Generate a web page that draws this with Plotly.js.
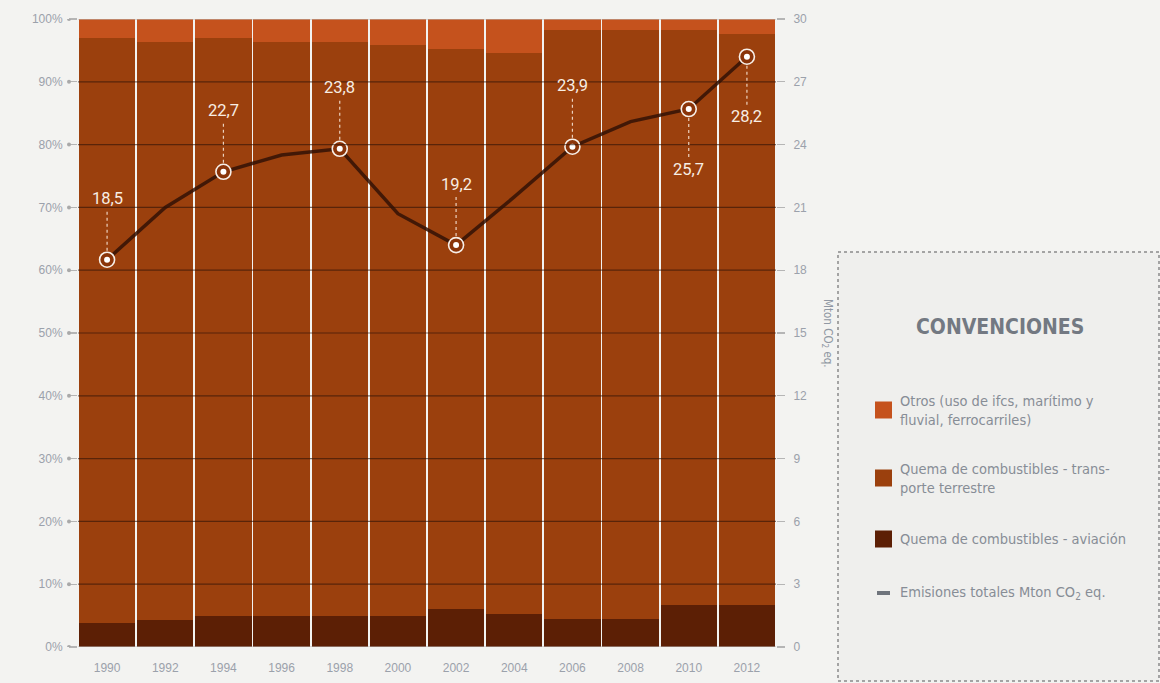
<!DOCTYPE html>
<html>
<head>
<meta charset="utf-8">
<script src="https://cdn.plot.ly/plotly-3.0.1.min.js"></script>
<style>
  html, body { margin: 0; padding: 0; background: #f3f3f1; }
  #chart { width: 1160px; height: 683px; }
</style>
</head>
<body>
<div id="chart"></div>
<script>
// ---- data ----
const years = [1990, 1992, 1994, 1996, 1998, 2000, 2002, 2004, 2006, 2008, 2010, 2012];
const yearLabels = ["1990", "1992", "1994", "1996", "1998", "2000", "2002", "2004", "2006", "2008", "2010", "2012"];
const aviacion = [3.9, 4.3, 4.9, 4.9, 4.9, 4.9, 6.1, 5.2, 4.5, 4.5, 6.7, 6.7];
const terrestre = [93.1, 92.1, 92.1, 91.5, 91.5, 91.0, 89.1, 89.4, 93.7, 93.7, 91.5, 90.9];
const otros = [3.0, 3.6, 3.0, 3.6, 3.6, 4.1, 4.8, 5.4, 1.8, 1.8, 1.8, 2.4];
const emisiones = [18.5, 21.0, 22.7, 23.5, 23.8, 20.7, 19.2, 21.5, 23.9, 25.1, 25.7, 28.2];
const labeledYears = [1990, 1994, 1998, 2002, 2006, 2010, 2012];
const labelSide = ["above", "above", "above", "above", "above", "below", "below"];
const pctTicks = [0, 10, 20, 30, 40, 50, 60, 70, 80, 90, 100];
const pctLabels = ["0%", "10%", "20%", "30%", "40%", "50%", "60%", "70%", "80%", "90%", "100%"];
const mtonTicks = [0, 3, 6, 9, 12, 15, 18, 21, 24, 27, 30];
const mtonLabels = ["0", "3", "6", "9", "12", "15", "18", "21", "24", "27", "30"];
const seriesNames = [
  "Otros (uso de ifcs, marítimo y<br>fluvial, ferrocarriles)",
  "Quema de combustibles - trans-<br>porte terrestre",
  "Quema de combustibles - aviación",
  "Emisiones totales Mton CO<sub>2</sub> eq."
];
const seriesColors = ["#c5521d", "#9b400d", "#5c1f05", "#6f747c"];

// ---- layout helpers (pixel -> paper) ----
const W = 1160, H = 683;
const M = { l: 78, r: 384, t: 19, b: 36 };
const PW = W - M.l - M.r, PH = H - M.t - M.b;
const px2x = p => (p - M.l) / PW;
const py2y = p => (H - M.b - p) / PH;

const tickFont = { family: "Liberation Sans, Arial, sans-serif", size: 12, color: "#9ba1ab" };

const barBase = { type: "bar", x: years, width: 1.94, hoverinfo: "skip", showlegend: false };

const traces = [
  Object.assign({}, barBase, { name: "aviacion", y: aviacion, marker: { color: seriesColors[2], line: { width: 0 } } }),
  Object.assign({}, barBase, { name: "terrestre", y: terrestre, marker: { color: seriesColors[1], line: { width: 0 } } }),
  Object.assign({}, barBase, { name: "otros", y: otros, marker: { color: seriesColors[0], line: { width: 0 } } }),
  { type: "scatter", mode: "lines", x: years, y: emisiones, yaxis: "y2", showlegend: false,
    line: { color: "rgba(50,18,6,0.85)", width: 3.5 }, hoverinfo: "skip" }
];

const lx = [], ly = [];
labeledYears.forEach(yr => { const i = years.indexOf(yr); lx.push(yr); ly.push(emisiones[i]); });
traces.push({ type: "scatter", mode: "markers", x: lx, y: ly, yaxis: "y2", showlegend: false, hoverinfo: "skip",
  marker: { symbol: "circle", size: 15, color: "#8a3409", line: { color: "#f7efe8", width: 1.6 } } });
traces.push({ type: "scatter", mode: "markers", x: lx, y: ly, yaxis: "y2", showlegend: false, hoverinfo: "skip",
  marker: { symbol: "circle", size: 6, color: "#ffffff" } });

const shapes = [];
const annotations = [];

// grid lines over bars
pctTicks.forEach(v => {
  const edge = (v === 0 || v === 100);
  shapes.push({ type: "line", xref: "paper", x0: 0, x1: 1, yref: "y", y0: v, y1: v, layer: "above",
    line: { color: edge ? "#b9b9b9" : "rgba(45,18,6,0.6)", width: 1.2 } });
  shapes.push({ type: "circle", xref: "paper", xsizemode: "pixel", xanchor: 0, x0: -11, x1: -7,
    yref: "y", ysizemode: "pixel", yanchor: v, y0: -2, y1: 2, fillcolor: "#a9a9a9", line: { width: 0 } });
});

// labels with dotted leaders
labeledYears.forEach((yr, k) => {
  const v = ly[k];
  const up = labelSide[k] === "above";
  annotations.push({ x: yr, y: v, xref: "x", yref: "y2", showarrow: false, xanchor: "center", yanchor: "middle",
    text: v.toFixed(1).replace(".", ","), yshift: up ? 61 : -60,
    font: { family: "Roboto, Liberation Sans, sans-serif", size: 16.5, color: "#f8eee4" } });
  shapes.push({ type: "line", xref: "x", x0: yr, x1: yr, yref: "y2", ysizemode: "pixel", yanchor: v,
    y0: up ? 9 : -9, y1: up ? 50 : -49, layer: "above",
    line: { color: "rgba(245,225,210,0.9)", width: 1.2, dash: "dot" } });
});

// right axis title
annotations.push({ xref: "paper", yref: "paper", x: px2x(828), y: py2y(333), xanchor: "center", yanchor: "middle",
  showarrow: false, textangle: 90,
  text: "Mton CO<sub>2</sub> eq.", font: { family: "DejaVu Sans Condensed, Liberation Sans Narrow, sans-serif", size: 11.5, color: "#9098a3" } });

// legend box
shapes.push({ type: "rect", xref: "paper", yref: "paper", x0: px2x(838), x1: px2x(1159), y0: py2y(681), y1: py2y(252),
  fillcolor: "#efefed", line: { color: "#8b8b8b", width: 1.5, dash: "dot" } });
annotations.push({ xref: "paper", yref: "paper", x: px2x(1000), y: py2y(327), xanchor: "center", yanchor: "middle",
  showarrow: false,
  text: "<b>CONVENCIONES</b>", font: { family: "DejaVu Sans Condensed, sans-serif", size: 21, color: "#737982" } });

const itemY = [410, 478, 539, 593];
const legFont = { family: "DejaVu Sans Condensed, Liberation Sans Narrow, sans-serif", size: 14.5, color: "#878d96" };
seriesNames.forEach((name, i) => {
  const cy = itemY[i];
  if (i < 3) {
    shapes.push({ type: "rect", xref: "paper", yref: "paper", x0: px2x(875), x1: px2x(892),
      y0: py2y(cy + 8.5), y1: py2y(cy - 8.5), fillcolor: seriesColors[i], line: { width: 0 } });
  } else {
    shapes.push({ type: "line", xref: "paper", yref: "paper", x0: px2x(877), x1: px2x(890),
      y0: py2y(cy), y1: py2y(cy), line: { color: seriesColors[i], width: 4 } });
  }
  annotations.push({ xref: "paper", yref: "paper", x: px2x(898), y: py2y(cy), xanchor: "left", yanchor: "middle",
    align: "left", showarrow: false, text: name, font: legFont });
});

const layout = {
  width: W, height: H,
  margin: M,
  paper_bgcolor: "#f3f3f1",
  plot_bgcolor: "#f3f3f1",
  barmode: "stack",
  showlegend: false,
  xaxis: { range: [1989, 2013], tickvals: years, ticktext: yearLabels, showgrid: false, zeroline: false,
    ticks: "", tickfont: tickFont, ticklabelstandoff: 12, fixedrange: true },
  yaxis: { range: [0, 100], tickvals: pctTicks, ticktext: pctLabels, showgrid: false, zeroline: false,
    ticks: "outside", ticklen: 8, tickcolor: "#b5b5b5", tickwidth: 1.2, tickfont: tickFont, ticklabelstandoff: 4 },
  yaxis2: { range: [0, 30], overlaying: "y", side: "right", tickvals: mtonTicks, ticktext: mtonLabels,
    showgrid: false, zeroline: false, ticks: "outside", ticklen: 8, tickcolor: "#b5b5b5", tickwidth: 1.2,
    tickfont: tickFont, ticklabelstandoff: 6 },
  shapes: shapes,
  annotations: annotations
};

Plotly.newPlot("chart", traces, layout, { displayModeBar: false, staticPlot: true });
</script>
</body>
</html>
